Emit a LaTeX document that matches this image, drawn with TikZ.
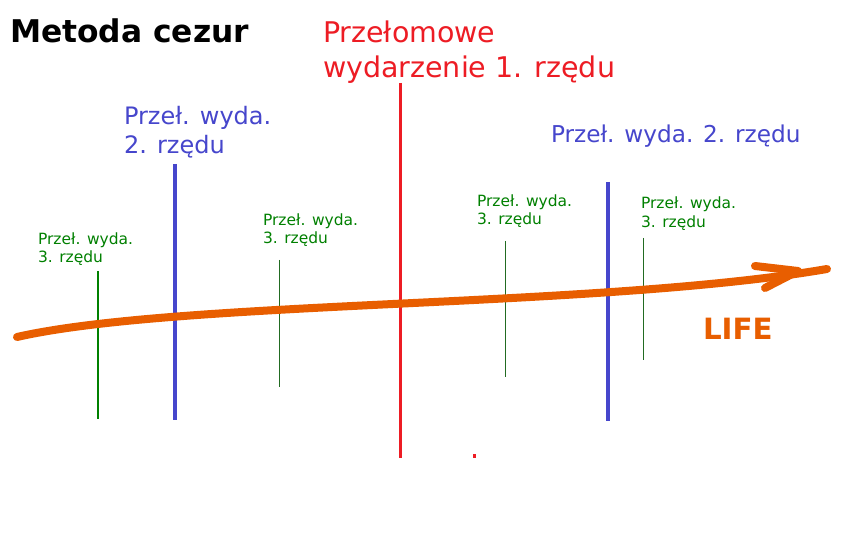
\documentclass[tikz,border=0pt]{standalone}
\usepackage{fontspec}
\setmainfont{DejaVu Sans}
\definecolor{lifeorange}{HTML}{E85E00}
\definecolor{evblue}{HTML}{4646CC}
\definecolor{evred}{HTML}{ED1C24}
\definecolor{evgreen}{HTML}{008000}
\definecolor{evdark}{HTML}{226B22}
\begin{document}
\begin{tikzpicture}[x=1pt,y=-1pt,
  lbl/.style={anchor=base west,inner sep=0pt,outer sep=0pt},
  greenlbl/.style={lbl,text=evgreen,font=\fontsize{15.5}{18}\selectfont},
  bluelbl/.style={lbl,text=evblue,font=\fontsize{24}{28}\selectfont},
  redlbl/.style={lbl,text=evred,font=\fontsize{28.5}{32}\selectfont},
  life/.style={draw=lifeorange,line width=8pt,line cap=round,line join=round},
  thirdline/.style={draw=evdark,line width=1pt},
  secondline/.style={draw=evblue,line width=4pt},
  firstline/.style={draw=evred,line width=3pt}]
\useasboundingbox (0,0) rectangle (863,553);
\fill[white] (0,0) rectangle (863,553);
% title
\node[lbl,font=\fontsize{31.3}{36}\selectfont\bfseries] (title) at (10,43) {Metoda cezur};
% first order
\node[redlbl] (r1) at (323,43) {Przełomowe};
\node[redlbl] (r2) at (323,78) {wydarzenie 1. rzędu};
\coordinate (rt) at (400,83);
\coordinate (rb) at (400,458);
\draw[firstline] (rt) -- (rb);
\fill[evred] (472.5,454.5) rectangle (475.5,458);
% second order
\node[bluelbl] (b1) at (124,125) {Przeł. wyda.};
\node[bluelbl] (b2) at (124,154) {2. rzędu};
\coordinate (b1t) at (175,164);
\coordinate (b1b) at (175,420);
\draw[secondline] (b1t) -- (b1b);
\node[bluelbl,font=\fontsize{23.2}{28}\selectfont] (b3) at (551,143) {Przeł. wyda. 2. rzędu};
\coordinate (b2t) at (608,182);
\coordinate (b2b) at (608,421);
\draw[secondline] (b2t) -- (b2b);
% third order
\node[greenlbl] (g1a) at (38,245) {Przeł. wyda.};
\node[greenlbl] (g1b) at (38,263) {3. rzędu};
\coordinate (g1t) at (98,271);
\coordinate (g1e) at (98,419);
\draw[draw=evgreen,line width=1.5pt] (g1t) -- (g1e);
\node[greenlbl] (g2a) at (263,226) {Przeł. wyda.};
\node[greenlbl] (g2b) at (263,244) {3. rzędu};
\coordinate (g2t) at (279,260);
\coordinate (g2e) at (279,387);
\draw[thirdline] (g2t) -- (g2e);
\node[greenlbl] (g3a) at (477,207) {Przeł. wyda.};
\node[greenlbl] (g3b) at (477,225) {3. rzędu};
\coordinate (g3t) at (505,241);
\coordinate (g3e) at (505,377);
\draw[thirdline] (g3t) -- (g3e);
\node[greenlbl] (g4a) at (641,209) {Przeł. wyda.};
\node[greenlbl] (g4b) at (641,228) {3. rzędu};
\coordinate (g4t) at (643,238);
\coordinate (g4e) at (643,360);
\draw[thirdline] (g4t) -- (g4e);
% life arrow
\coordinate (lifestart) at (17,337);
\coordinate (lifeend) at (827,269);
\draw[life] (lifestart) .. controls (180,300) and (600,308) .. (lifeend);
\coordinate (tip) at (798,271);
\coordinate (barbu) at (755,266);
\coordinate (barbl) at (765,288);
\draw[life] (barbu) -- (tip) -- (barbl);
\node[lbl,text=lifeorange,font=\fontsize{29.3}{34}\selectfont\bfseries] (lifelbl) at (703,340) {LIFE};
\end{tikzpicture}
\end{document}
